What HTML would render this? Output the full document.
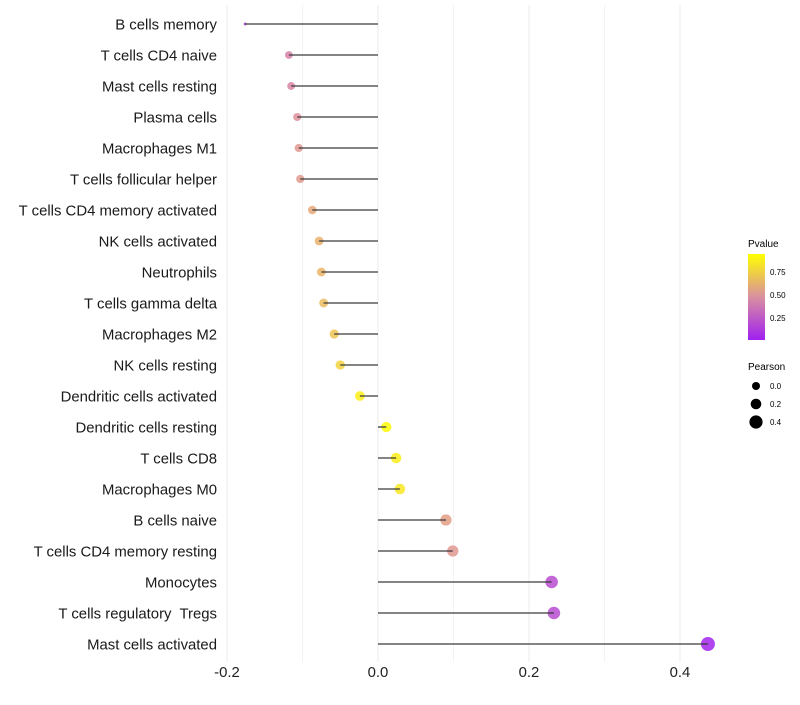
<!DOCTYPE html>
<html><head><meta charset="utf-8"><style>
body{margin:0;background:#fff;font-family:"Liberation Sans",sans-serif}
</style></head><body>
<svg id="chart" width="800" height="700" xmlns="http://www.w3.org/2000/svg">
<defs><linearGradient id="pg" x1="0" y1="1" x2="0" y2="0">
<stop offset="0" stop-color="#A020F0"/><stop offset="0.5" stop-color="#D98FA0"/><stop offset="1" stop-color="#FFFF00"/></linearGradient></defs>
<g id="grid"></g>
<g id="pts"></g>
<g id="marks"></g>
<g id="labels"></g>
<g id="xt"></g>
<g font-size="10" fill="#000">
<text x="748" y="247">Pvalue</text>
<rect x="748" y="254" width="17" height="86" fill="url(#pg)"/>
<text x="770" y="275" font-size="8">0.75</text>
<text x="770" y="298" font-size="8">0.50</text>
<text x="770" y="321" font-size="8">0.25</text>
</g>
<g font-size="10">
<text x="748" y="370">Pearson</text>
<circle cx="756" cy="386" r="4"/><text x="770" y="389" font-size="8">0.0</text>
<circle cx="756" cy="404" r="5.3"/><text x="770" y="407" font-size="8">0.2</text>
<circle cx="756" cy="422" r="6.6"/><text x="770" y="425" font-size="8">0.4</text>
</g>
</svg>
<script>
const categories=["B cells memory","T cells CD4 naive","Mast cells resting","Plasma cells","Macrophages M1","T cells follicular helper","T cells CD4 memory activated","NK cells activated","Neutrophils","T cells gamma delta","Macrophages M2","NK cells resting","Dendritic cells activated","Dendritic cells resting","T cells CD8","Macrophages M0","B cells naive","T cells CD4 memory resting","Monocytes","T cells regulatory  Tregs","Mast cells activated"];
const pearson=[-0.176,-0.118,-0.115,-0.107,-0.105,-0.103,-0.087,-0.078,-0.075,-0.072,-0.058,-0.050,-0.024,0.011,0.024,0.029,0.090,0.099,0.230,0.233,0.437];
const pvalues=[0.18,0.45,0.47,0.52,0.55,0.56,0.62,0.66,0.68,0.7,0.74,0.8,0.93,0.98,0.92,0.9,0.58,0.55,0.2,0.2,0.03];
const xTicks=[-0.2,0,0.2,0.4];
const xTickLabels=["-0.2","0.0","0.2","0.4"];
const NS="http://www.w3.org/2000/svg";
const xs=v=>378+v*755;
const ys=i=>24+i*31;
const pmin=Math.min(...pearson),pmax=Math.max(...pearson);
const rs=v=>1.5+5.5*Math.pow((v-pmin)/(pmax-pmin),0.35);
function col(p){const a=[160,32,240],m=[222,140,160],b=[255,255,0];let c;
 if(p<0.5){const t=p/0.5;c=a.map((x,k)=>x+(m[k]-x)*t);}else{const t=(p-0.5)/0.5;c=m.map((x,k)=>x+(b[k]-x)*t);}
 return `rgb(${c.map(Math.round).join(',')})`;}
function mk(t,a,p){const e=document.createElementNS(NS,t);for(const k in a)e.setAttribute(k,a[k]);p.appendChild(e);return e;}
const grid=document.getElementById('grid'),pts=document.getElementById('pts'),marks=document.getElementById('marks'),labels=document.getElementById('labels'),xt=document.getElementById('xt');
for(let v=-0.2;v<=0.41;v+=0.1){const g=mk('line',{x1:xs(v),x2:xs(v),y1:5,y2:662,stroke:'#ebebeb','stroke-width':Math.abs(Math.round(v*10))%2===0?1:0.6},grid);

}
xTicks.forEach((v,i)=>{const t=mk('text',{x:xs(v),y:677,'text-anchor':'middle','font-size':14.9,fill:'#222'},xt);t.textContent=xTickLabels[i];

});
categories.forEach((c,i)=>{const y=ys(i);
 const t=mk('text',{x:217,y:y+5.5,'text-anchor':'end','font-size':14.9,fill:'#1a1a1a','xml:space':'preserve'},labels);t.textContent=c;t.style.whiteSpace='pre';
 
 
 const d=mk('circle',{cx:xs(pearson[i]),cy:y,r:rs(pearson[i]),fill:col(pvalues[i]),'fill-opacity':0.85},pts);
 
 
 const l=mk('line',{x1:xs(0),x2:xs(pearson[i]),y1:y,y2:y,stroke:'#3a3a3a','stroke-width':1.3},marks);
 
 
});
</script>
</body></html>
